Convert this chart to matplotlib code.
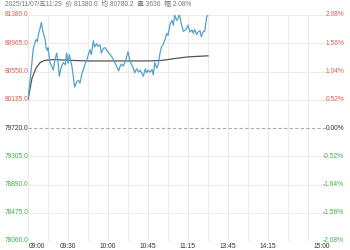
import matplotlib
matplotlib.use("Agg")
import matplotlib.pyplot as plt

plt.rcParams['font.family'] = ['Liberation Sans', 'Noto Sans CJK SC', 'DejaVu Sans']

# ---- data ----
prev_close = 79720.0
price_min = [0, 2, 4, 6, 7, 8, 9, 10, 11, 13, 13.5, 14.5, 15, 16.5, 18, 19, 20, 21.5, 22.5, 23.5,
             25, 26.5, 28, 29, 30, 31, 33, 34, 35, 36.5, 38, 39, 40.5, 43, 44, 46.5, 47.5, 49, 50,
             51.5, 52.5, 54, 55, 56.5, 58, 59, 60, 61.5, 63, 65, 68, 69, 70, 71.5, 73, 75, 76.5,
             78, 79, 80, 81.5, 83, 84, 85.5, 86.5, 88, 89, 90, 91.5, 93, 94, 95, 96.5, 97.5, 99,
             100, 101.5, 103, 104, 105, 106.5, 108, 109, 110, 111.5, 112.5, 113.5, 115, 116.5, 118,
             119, 120, 121.5, 123, 124, 125, 126.5, 127.5, 129, 130, 131.5, 132.5, 134, 135]
price_val = [80140, 80500, 80890, 81020, 80990, 81110, 81180, 81270, 81150, 81010, 80900, 80860,
             80900, 80680, 80620, 80570, 80700, 80820, 80700, 80480, 80620, 80680, 80650, 80820,
             80670, 80800, 80620, 80470, 80320, 80400, 80420, 80380, 80520, 80670, 80720, 80870,
             80800, 81000, 80910, 80960, 80920, 80940, 80820, 80890, 80900, 80860, 80840, 80800,
             80760, 80690, 80560, 80620, 80660, 80630, 80700, 80840, 80700, 80640, 80600, 80530,
             80590, 80540, 80570, 80520, 80480, 80590, 80530, 80570, 80540, 80580, 80500, 80680,
             80600, 80640, 80820, 80900, 80960, 81030, 81110, 81080, 81240, 81300, 81230, 81380,
             81300, 81330, 81390, 81250, 81140, 81160, 81180, 81230, 81130, 81160, 81110, 81170,
             81090, 81130, 81150, 81060, 81140, 81140, 81350, 81380]
avg_min = [0, 3, 6, 9, 12, 15, 20, 30, 45, 60, 75, 90, 100, 110, 120, 135]
avg_val = [80140, 80450, 80600, 80680, 80710, 80720, 80725, 80715, 80705, 80705, 80705, 80705,
           80712, 80740, 80765, 80780]

y_ticks = [81380.0, 80965.0, 80550.0, 80135.0, 79720.0, 79305.0, 78890.0, 78475.0, 78060.0]
pct_labels = ["2.08%", "1.56%", "1.04%", "0.52%", "0.00%", "-0.52%", "-1.04%", "-1.56%", "-2.08%"]
time_pos = [0, 30, 60, 90, 120, 150, 180, 225]
time_labels = ["09:00", "09:30", "10:00", "10:45", "11:15", "13:45", "14:15", "15:00"]
header = "2025/11/07/五11:29  价 81380.0  均 80780.2  量 3636  幅 2.08%"

W, H = 350, 250
fig = plt.figure(figsize=(3.5, 2.5), dpi=100)
fig.patch.set_facecolor('white')
L, R, T, B = 28, 328, 15, 241
ax = fig.add_axes([L / W, 1 - B / H, (R - L) / W, (B - T) / H])
ax.set_xlim(0, 225)
ax.set_ylim(78060, 81380)
for s in ax.spines.values():
    s.set_visible(False)
ax.set_xticks([])
ax.set_yticks([])

for m in range(0, 226, 15):
    ax.axvline(m, color='#ececec', lw=0.8, zorder=0)
for v in y_ticks:
    if v == prev_close:
        ax.axhline(v, color='#aaaaaa', lw=0.8, ls=(0, (3, 2)), zorder=1)
    else:
        ax.axhline(v, color='#ececec', lw=0.8, zorder=0)

ax.plot(price_min, price_val, color='#55a2cc', lw=0.9, zorder=3)
ax.plot(avg_min, avg_val, color='#555555', lw=0.9, zorder=2)

red, green, black = '#e05a4e', '#3fae4a', '#333333'
fs = 4.8
for v, p in zip(y_ticks, pct_labels):
    c = red if v > prev_close else (green if v < prev_close else black)
    y = 1 - (T + (81380 - v) / (81380 - 78060) * (B - T)) / H
    fig.text(5 / W, y, f"{v:.1f}", color=c, fontsize=fs, ha='left', va='center')
    fig.text(344 / W, y, p, color=c, fontsize=fs, ha='right', va='center')

for m, lab in zip(time_pos, time_labels):
    x = L + m / 225 * (R - L)
    x = min(max(x, 37), 322)
    fig.text(x / W, 1 - 246.5 / H, lab, color='#333333', fontsize=fs, ha='center', va='center')

fig.text(5 / W, 1 - 4 / H, header, color='#777777', fontsize=fs, ha='left', va='center')

fig.savefig('out.png', dpi=100)
